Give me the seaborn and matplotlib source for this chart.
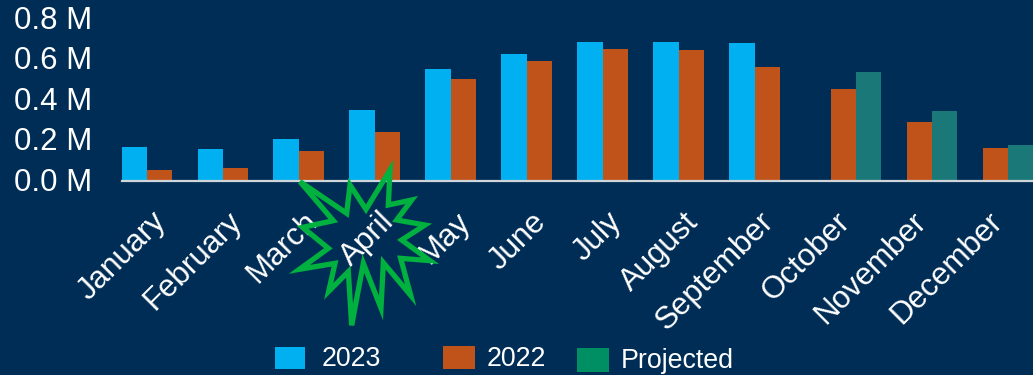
import matplotlib
matplotlib.use("Agg")
import matplotlib.pyplot as plt
from matplotlib.patches import Polygon, Rectangle
from matplotlib.transforms import IdentityTransform, ScaledTranslation
import numpy as np
import pandas as pd
import seaborn as sns

months = ["January", "February", "March", "April", "May", "June", "July",
          "August", "September", "October", "November", "December"]
series_names = ["2023", "2022", "Projected"]
values_2023 = [0.167, 0.158, 0.207, 0.350, 0.552, 0.626, 0.685, 0.685, 0.680,
               np.nan, np.nan, np.nan]
values_2022 = [0.054, 0.064, 0.148, 0.241, 0.502, 0.591, 0.650, 0.645, 0.562,
               0.453, 0.290, 0.163]
values_projected = [np.nan] * 9 + [0.537, 0.345, 0.177]
y_ticks = [0.0, 0.2, 0.4, 0.6, 0.8]

NAVY = "#002D56"
BAR_COLORS = {"2023": "#00B0F0", "2022": "#C0531A", "Projected": "#1A7878"}
LEGEND_COLORS = {"2023": "#00B0F0", "2022": "#C0531A", "Projected": "#008E63"}
STAR_GREEN = "#00B13F"
W, H = 1033, 375

sns.set_theme(style="white")
plt.rcParams["font.family"] = ["Liberation Sans", "DejaVu Sans"]

frame = pd.DataFrame({
    "month": months * 3,
    "series": np.repeat(series_names, len(months)),
    "value": values_2023 + values_2022 + values_projected,
})

fig = plt.figure(figsize=(W / 100, H / 100), dpi=100, facecolor=NAVY)
ax = fig.add_axes([121.5 / W, 1 - 181 / H, 912 / W, 181 / H], facecolor=NAVY)

sns.barplot(data=frame, x="month", y="value", hue="series", order=months,
            hue_order=series_names, palette=BAR_COLORS, width=1.0, gap=0,
            saturation=1, linewidth=0, edgecolor="none",
            errorbar=None, legend=False, ax=ax)

ax.set_xlim(-0.5, 11.5)
ax.set_ylim(0, 181 / 203)
ax.set_xlabel("")
ax.set_ylabel("")
sns.despine(ax=ax, left=True, top=True, right=True)
ax.spines["bottom"].set_color("#D0D5DA")
ax.spines["bottom"].set_linewidth(1.6)
ax.tick_params(axis="both", length=0)
ax.set_yticks(y_ticks)
ax.set_yticklabels([f"{v:.1f} M" for v in y_ticks], color="white", fontsize=22.5)
ax.tick_params(axis="y", pad=21)
for label in ax.get_yticklabels():
    label.set_transform(label.get_transform()
                        + ScaledTranslation(0, 1.5 / 100, fig.dpi_scale_trans))
ax.set_xticks(range(len(months)))
ax.set_xticklabels(months, color="white", fontsize=22.5, rotation=45,
                   ha="right", va="top", rotation_mode="anchor")
ax.tick_params(axis="x", pad=18.5)
for label in ax.get_xticklabels():
    label.set_transform(label.get_transform()
                        + ScaledTranslation(-8.5 / 100, 0, fig.dpi_scale_trans))

# Starburst callout around the April label, outlined in figure pixels.
star_zoom = [(330, 60), (325, 165), (395, 150), (350, 210), (435, 225), (365, 270),
             (450, 332), (362, 325), (392, 436), (310, 338), (303, 474), (250, 340),
             (215, 526), (205, 365), (146, 424), (165, 340), (58, 358), (145, 295),
             (68, 232), (160, 212), (60, 95), (200, 190), (210, 105), (258, 178)]
star_px = [(280 + x / 3, H - (150 + y / 3)) for x, y in star_zoom]
fig.add_artist(Polygon(star_px, closed=True, fill=False, edgecolor=STAR_GREEN,
                       linewidth=3.8, joinstyle="miter",
                       transform=IdentityTransform()))

# Legend entries placed individually for their uneven spacing.
legend_items = [("2023", 275, 347, 30, 22, 322),
                ("2022", 443, 346, 32, 23, 487),
                ("Projected", 577, 348, 32, 24, 621)]
for name, x, y, w, h, text_x in legend_items:
    fig.add_artist(Rectangle((x, H - y - h), w, h, facecolor=LEGEND_COLORS[name],
                             edgecolor="none", transform=IdentityTransform()))
    fig.text(text_x / W, 1 - (y + h / 2 + 1) / H, name, color="white",
             fontsize=19.3, ha="left", va="center")

fig.savefig("out.png", dpi=100, facecolor=NAVY)
